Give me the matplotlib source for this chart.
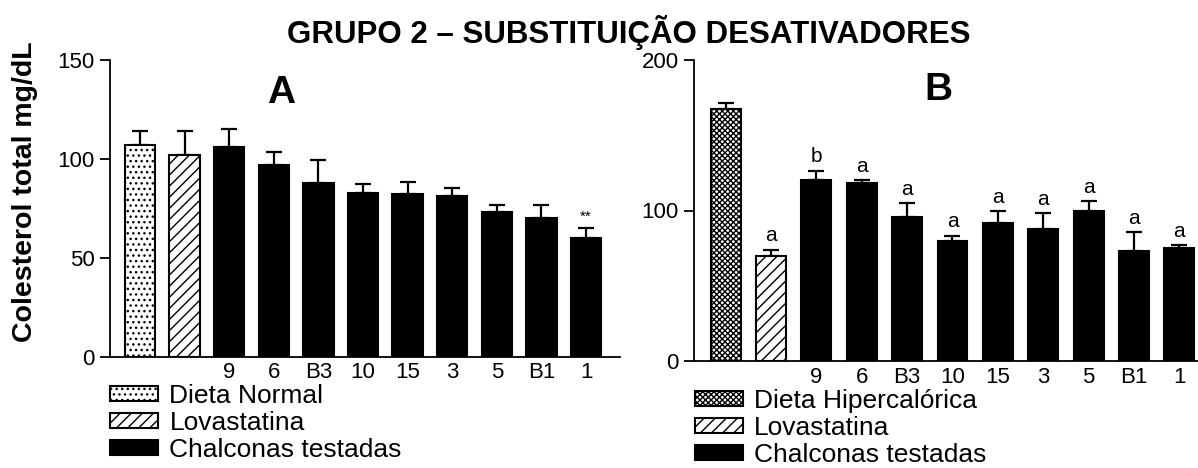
import matplotlib
matplotlib.use("Agg")
import matplotlib.pyplot as plt
import numpy as np

plt.rcParams['font.family'] = ['Liberation Sans', 'DejaVu Sans']
plt.rcParams['hatch.linewidth'] = 1.0
plt.rcParams['hatch.color'] = 'black'

# Panel A: normal diet group
labels_a = ["Dieta Normal", "Lovastatina", "9", "6", "B3", "10", "15", "3", "5", "B1", "1"]
values_a = [107, 102, 106, 97, 88, 83, 82.5, 81, 73, 70, 60]
errors_a = [7, 12, 9, 6.5, 11.5, 4.5, 6, 4.5, 3.5, 6.5, 5]
ticks_a = ["", "", "9", "6", "B3", "10", "15", "3", "5", "B1", "1"]
marks_a = ["", "", "", "", "", "", "", "", "", "", "**"]

# Panel B: hypercaloric diet group
labels_b = ["Dieta Hipercalórica", "Lovastatina", "9", "6", "B3", "10", "15", "3", "5", "B1", "1"]
values_b = [167.5, 69.5, 120.5, 118, 95.5, 80, 92, 88, 100, 73, 75]
errors_b = [4, 4.5, 6, 2.3, 9.5, 3.3, 7.5, 10.5, 6.5, 12.5, 2.2]
ticks_b = ["", "", "9", "6", "B3", "10", "15", "3", "5", "B1", "1"]
marks_b = ["", "a", "b", "a", "a", "a", "a", "a", "a", "a", "a"]

legend_a = ["Dieta Normal", "Lovastatina", "Chalconas testadas"]
legend_b = ["Dieta Hipercalórica", "Lovastatina", "Chalconas testadas"]

W, H = 1198, 468
fig = plt.figure(figsize=(W / 100, H / 100), dpi=100)


def px_axes(left, right, top, bottom):
    return fig.add_axes([left / W, 1 - bottom / H, (right - left) / W, (bottom - top) / H])


def draw_panel(ax, values, errors, ticks, marks, first_hatch, width, mark_size):
    x = np.arange(len(values))
    colors = ['white', 'white'] + ['black'] * (len(values) - 2)
    hatches = [first_hatch, '///'] + [None] * (len(values) - 2)
    bars = ax.bar(x, values, width=width, color=colors, edgecolor='black',
                  linewidth=1.5, zorder=2)
    for b, h in zip(bars, hatches):
        if h:
            b.set_hatch(h)
    ax.errorbar(x, values, yerr=[np.zeros(len(errors)), errors], fmt='none',
                ecolor='black', elinewidth=1.6, capsize=6, capthick=1.6, zorder=1)
    for xi, v, e, m in zip(x, values, errors, marks):
        if m:
            ax.annotate(m, (xi, v + e), xytext=(0, 3), textcoords='offset points',
                        ha='center', va='bottom', fontsize=mark_size)
    ax.set_xticks(x)
    ax.set_xticklabels(ticks, fontsize=16)
    ax.tick_params(axis='x', length=0, pad=4)
    ax.tick_params(axis='y', length=7, width=1.3, labelsize=16, pad=4)
    for s in ('top', 'right'):
        ax.spines[s].set_visible(False)
    for s in ('left', 'bottom'):
        ax.spines[s].set_linewidth(1.3)
    return bars


axA = px_axes(110, 620, 60, 356.7)
bars_a = draw_panel(axA, values_a, errors_a, ticks_a, marks_a, '...', 0.68, 11)
axA.set_ylim(0, 150)
axA.set_yticks([0, 50, 100, 150])
axA.set_xlim(-0.67, 10.76)
axA.text(0.335, 0.89, "A", transform=axA.transAxes, ha='center', va='center',
         fontsize=28, fontweight='bold')

axB = px_axes(693.8, 1198, 60, 361)
bars_b = draw_panel(axB, values_b, errors_b, ticks_b, marks_b, 'xxxxxx', 0.66, 15)
axB.set_ylim(0, 200)
axB.set_yticks([0, 100, 200])
axB.set_xlim(-0.70, 10.41)
axB.text(0.485, 0.90, "B", transform=axB.transAxes, ha='center', va='center',
         fontsize=28, fontweight='bold')

leg_kw = dict(frameon=False, fontsize=19, handlelength=1.8, handleheight=0.5,
              handletextpad=0.45, labelspacing=0.12, borderpad=0, borderaxespad=0,
              loc='upper left', bbox_transform=fig.transFigure)
axA.legend([bars_a[0], bars_a[1], bars_a[2]], legend_a,
           bbox_to_anchor=(110 / W, 1 - 384 / H), **leg_kw)
axB.legend([bars_b[0], bars_b[1], bars_b[2]], legend_b,
           bbox_to_anchor=(695 / W, 1 - 389 / H), **leg_kw)

fig.text(25 / W, 1 - 192 / H, "Colesterol total mg/dL", rotation=90, ha='center',
         va='center', fontsize=20.5, fontweight='bold')
fig.text(629 / W, 1 - 32 / H, "GRUPO 2 – SUBSTITUIÇÃO DESATIVADORES",
         ha='center', va='center', fontsize=22.5, fontweight='bold')

fig.savefig("out.png", dpi=100)
